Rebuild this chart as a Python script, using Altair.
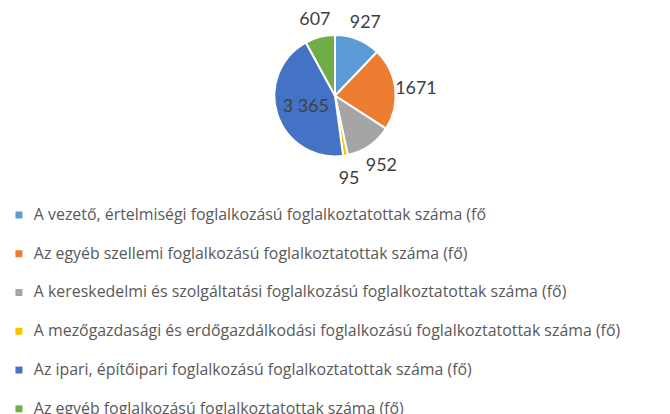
import altair as alt
import pandas as pd

categories = [
    "A vezető, értelmiségi foglalkozású foglalkoztatottak száma (fő",
    "Az egyéb szellemi foglalkozású foglalkoztatottak száma (fő)",
    "A kereskedelmi és szolgáltatási foglalkozású foglalkoztatottak száma (fő)",
    "A mezőgazdasági és erdőgazdálkodási foglalkozású foglalkoztatottak száma (fő)",
    "Az ipari, építőipari foglalkozású foglalkoztatottak száma (fő)",
    "Az egyéb foglalkozású foglalkoztatottak száma (fő)",
]
values = [927, 1671, 952, 95, 3365, 607]
labels = ["927", "1671", "952", "95", "3 365", "607"]
colors = ["#5B9BD5", "#ED7D31", "#A5A5A5", "#FFC000", "#4472C4", "#70AD47"]

df = pd.DataFrame({
    "cat": categories,
    "value": values,
    "label": labels,
    "idx": list(range(len(values))),
})

LABEL_FONT = "Lato"
LEGEND_FONT = "Open Sans"

pie = alt.Chart(df).mark_arc(outerRadius=61, stroke="white", strokeWidth=2).encode(
    theta=alt.Theta("value:Q", stack=True),
    order=alt.Order("idx:Q"),
    color=alt.Color(
        "cat:N",
        scale=alt.Scale(domain=categories, range=colors),
        sort=categories,
        legend=alt.Legend(
            title=None,
            orient="none",
            legendX=3,
            legendY=199,
            direction="vertical",
            symbolType="square",
            symbolSize=49,
            symbolStrokeWidth=0,
            labelFont=LEGEND_FONT,
            labelFontSize=16,
            labelColor="#595959",
            labelLimit=800,
            labelOffset=7,
            rowPadding=23,
            padding=0,
        ),
    ),
)

text_base = alt.Chart(df).transform_window(
    cum="sum(value)", sort=[alt.SortField("idx", order="ascending")], frame=[None, 0]
).transform_joinaggregate(
    vmax="max(value)"
).transform_calculate(
    mid="datum.cum - datum.value / 2"
).encode(
    theta=alt.Theta("mid:Q", stack=None),
    text="label:N",
)

outside = text_base.transform_filter("datum.value != datum.vmax").mark_text(
    radius=82, dy=3, font=LABEL_FONT, fontSize=18, color="#404040"
)
inside = text_base.transform_filter("datum.value == datum.vmax").mark_text(
    radius=31, dy=2, font=LABEL_FONT, fontSize=18, color="#404040"
)

chart = alt.layer(pie, outside, inside).properties(
    width=658,
    height=174,
    autosize=alt.AutoSizeParams(type="none"),
    padding={"top": 0, "left": 0, "right": 0, "bottom": 240},
).configure_view(stroke=None)

chart.save("out.html", embed_options={"renderer": "svg", "actions": False})
